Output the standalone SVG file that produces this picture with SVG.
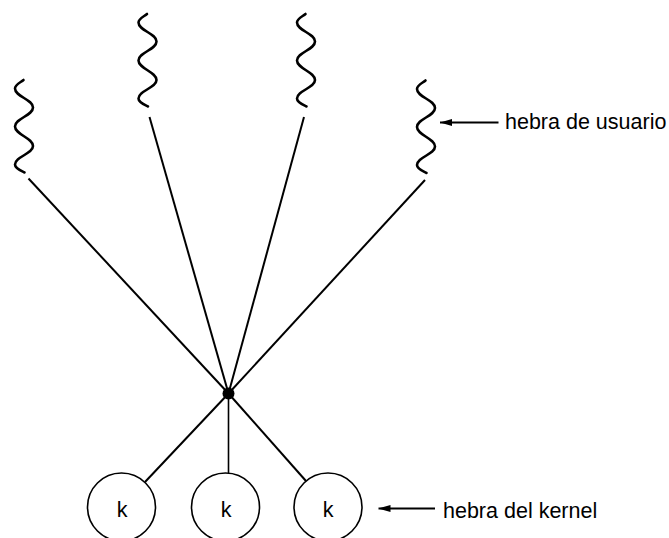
<svg xmlns="http://www.w3.org/2000/svg" xmlns:xlink="http://www.w3.org/1999/xlink" width="669" height="538" viewBox="0 0 669 538">
<style>
.wave{fill:none;stroke:#000;stroke-width:2.6;stroke-linecap:round;stroke-linejoin:round}
.edge{fill:none;stroke:#000;stroke-width:2}
.kt{fill:#fff;stroke:#000;stroke-width:1.6}
.lbl{font-family:"Liberation Sans",Arial,sans-serif;font-size:21.5px;fill:#000}
.k{font-family:"Liberation Sans",Arial,sans-serif;font-size:21.5px;fill:#000;text-anchor:middle}
.arr{fill:none;stroke:#000;stroke-width:1.8}
</style>
<defs>
<path id="wave" class="wave" d="M0,0 C-3,2.5 -8.5,4.5 -8.5,8.5 C-8.5,16.5 9.5,19.5 9.5,27.5 C9.5,35.5 -8.5,38.5 -8.5,46.5 C-8.5,54.5 9.5,58 9.5,66 C9.5,74 -8.5,76.5 -8.5,84.5 C-8.5,88.5 -3,90.5 1,92.5"/>
<marker id="ah" viewBox="0 0 12 8" refX="12" refY="4" markerWidth="12" markerHeight="8" markerUnits="userSpaceOnUse" orient="auto">
<path d="M12,4 L0,0.5 L0,7.5 Z" fill="#000"/>
</marker>
</defs>
<g id="connectors">
<line class="edge" x1="228.5" y1="393.5" x2="28.5" y2="178.5"/>
<line class="edge" x1="228.5" y1="393.5" x2="149.5" y2="117"/>
<line class="edge" x1="228.5" y1="393.5" x2="304" y2="117"/>
<line class="edge" x1="228.5" y1="393.5" x2="425" y2="180"/>
<line class="edge" x1="228.5" y1="393.5" x2="145" y2="482"/>
<line class="edge" x1="228.5" y1="393.5" x2="228.5" y2="473" style="stroke-width:1.6"/>
<line class="edge" x1="228.5" y1="393.5" x2="306" y2="481"/>
</g>
<g id="user-thread-1"><use xlink:href="#wave" href="#wave" transform="translate(23.5,80)"/></g>
<g id="user-thread-2"><use xlink:href="#wave" href="#wave" transform="translate(147,14)"/></g>
<g id="user-thread-3"><use xlink:href="#wave" href="#wave" transform="translate(305.5,14)"/></g>
<g id="user-thread-4"><use xlink:href="#wave" href="#wave" transform="translate(425.5,80.5)"/></g>
<g id="mux-point"><circle cx="228.5" cy="393.5" r="6" fill="#000"/></g>
<g id="kernel-thread-1"><circle class="kt" cx="121.5" cy="507" r="34"/><text class="k" x="122" y="516.5">k</text></g>
<g id="kernel-thread-2"><circle class="kt" cx="225.5" cy="507" r="34"/><text class="k" x="226" y="516.5">k</text></g>
<g id="kernel-thread-3"><circle class="kt" cx="328" cy="507" r="34"/><text class="k" x="328" y="516.5">k</text></g>
<g id="label-user">
<line class="arr" x1="498.5" y1="122.5" x2="440" y2="122.5" marker-end="url(#ah)"/>
<text class="lbl" x="505" y="128.5">hebra de usuario</text>
</g>
<g id="label-kernel">
<line class="arr" x1="435" y1="508.5" x2="378.5" y2="508.5" marker-end="url(#ah)"/>
<text class="lbl" x="443" y="517.5">hebra del kernel</text>
</g>
</svg>
